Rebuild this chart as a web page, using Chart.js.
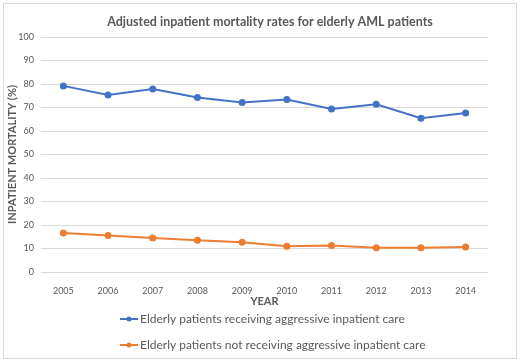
<!DOCTYPE html>
<html>
<head>
<meta charset="utf-8">
<script src="https://cdn.jsdelivr.net/npm/chart.js@4/dist/chart.umd.min.js"></script>
<style>
  html, body { margin: 0; padding: 0; background: #fff; }
  #wrap { width: 520px; height: 363px; position: relative; }
</style>
</head>
<body>
<div id="wrap"><canvas id="mortality"></canvas></div>
<script>
// data
const years = ['2005', '2006', '2007', '2008', '2009', '2010', '2011', '2012', '2013', '2014'];
const aggressiveCare = [79.2, 75.3, 77.9, 74.3, 72.1, 73.4, 69.4, 71.4, 65.4, 67.7];
const noAggressiveCare = [16.6, 15.5, 14.5, 13.5, 12.7, 11.0, 11.3, 10.3, 10.3, 10.6];
const yTicks = [0, 10, 20, 30, 40, 50, 60, 70, 80, 90, 100];

const chartTitle = 'Adjusted inpatient mortality rates for elderly AML patients';
const seriesLabels = [
    'Elderly patients receiving aggressive inpatient care',
    'Elderly patients not receiving aggressive inpatient care'
];

const textGrey = '#595959';
const fontName = 'Lato, Carlito, "Open Sans", sans-serif';

// frame, title and the legend (rows starting at the same x, like the original)
const framePlugin = {
    id: 'frameAndLegend',
    beforeDraw(chart) {
        let ctx = chart.ctx;
        ctx.save();
        ctx.fillStyle = '#fff';
        ctx.fillRect(0, 0, chart.width, chart.height);
        ctx.strokeStyle = '#d9d9d9';
        ctx.lineWidth = 1;
        ctx.strokeRect(3.5, 3.5, 513, 355);
        ctx.restore();
    },
    afterDraw(chart) {
        let ctx = chart.ctx;
        ctx.save();
        ctx.fillStyle = textGrey;
        ctx.textAlign = 'center';
        ctx.textBaseline = 'middle';
        ctx.font = 'bold 12.5px ' + fontName;
        ctx.fillText(chartTitle, 270, 22);

        ctx.textAlign = 'left';
        ctx.font = '12px ' + fontName;
        let rowsY = [319, 345];
        chart.data.datasets.forEach((ds, i) => {
            let y = rowsY[i];
            ctx.strokeStyle = ds.borderColor;
            ctx.lineWidth = 2;
            ctx.beginPath();
            ctx.moveTo(120, y);
            ctx.lineTo(138, y);
            ctx.stroke();
            ctx.fillStyle = ds.borderColor;
            ctx.beginPath();
            ctx.arc(129, y, 2.5, 0, Math.PI * 2);
            ctx.fill();
            ctx.fillStyle = textGrey;
            ctx.fillText(ds.label, 140, y);
        });
        ctx.restore();
    }
};

var ctxL = document.getElementById('mortality').getContext('2d');

var mortalityChart = new Chart(ctxL, {
    type: 'line',
    plugins: [framePlugin],
    data: {
        labels: years,
        datasets: [{
            label: seriesLabels[0],
            data: aggressiveCare,
            borderColor: '#4472C4',
            backgroundColor: '#4472C4',
            borderWidth: 2,
            pointRadius: 2.5,
            pointHoverRadius: 3,
            tension: 0
        }, {
            label: seriesLabels[1],
            data: noAggressiveCare,
            borderColor: '#ED7D31',
            backgroundColor: '#ED7D31',
            borderWidth: 2,
            pointRadius: 2.5,
            pointHoverRadius: 3,
            tension: 0
        }]
    },
    options: {
        responsive: true,
        maintainAspectRatio: false,
        animation: false,
        layout: {
            padding: { left: 4, right: 32, top: 37, bottom: 55 }
        },
        plugins: {
            legend: { display: false },
            tooltip: { enabled: false },
            title: { display: false }
        },
        scales: {
            x: {
                offset: true,
                grid: { display: false },
                border: { display: false },
                ticks: {
                    color: textGrey,
                    font: { family: fontName, size: 9 },
                    padding: 6,
                    maxRotation: 0
                },
                title: {
                    display: true,
                    text: 'YEAR',
                    color: textGrey,
                    font: { family: fontName, size: 11, weight: 'bold' },
                    padding: { top: 2, bottom: 0 }
                },
                afterFit: (scale) => { scale.height = 36; }
            },
            y: {
                min: 0,
                max: 100,
                afterBuildTicks: (scale) => {
                    scale.ticks = yTicks.map(v => ({ value: v }));
                },
                grid: { color: '#d9d9d9', drawTicks: false },
                border: { display: false },
                ticks: {
                    color: textGrey,
                    font: { family: fontName, size: 9 },
                    padding: 7
                },
                title: {
                    display: true,
                    text: 'INPATIENT MORTALITY (%)',
                    color: textGrey,
                    font: { family: fontName, size: 11, weight: 'bold' },
                    padding: { top: 2, bottom: 2 }
                },
                afterFit: (scale) => { scale.width = 37; }
            }
        }
    }
});
</script>
</body>
</html>
